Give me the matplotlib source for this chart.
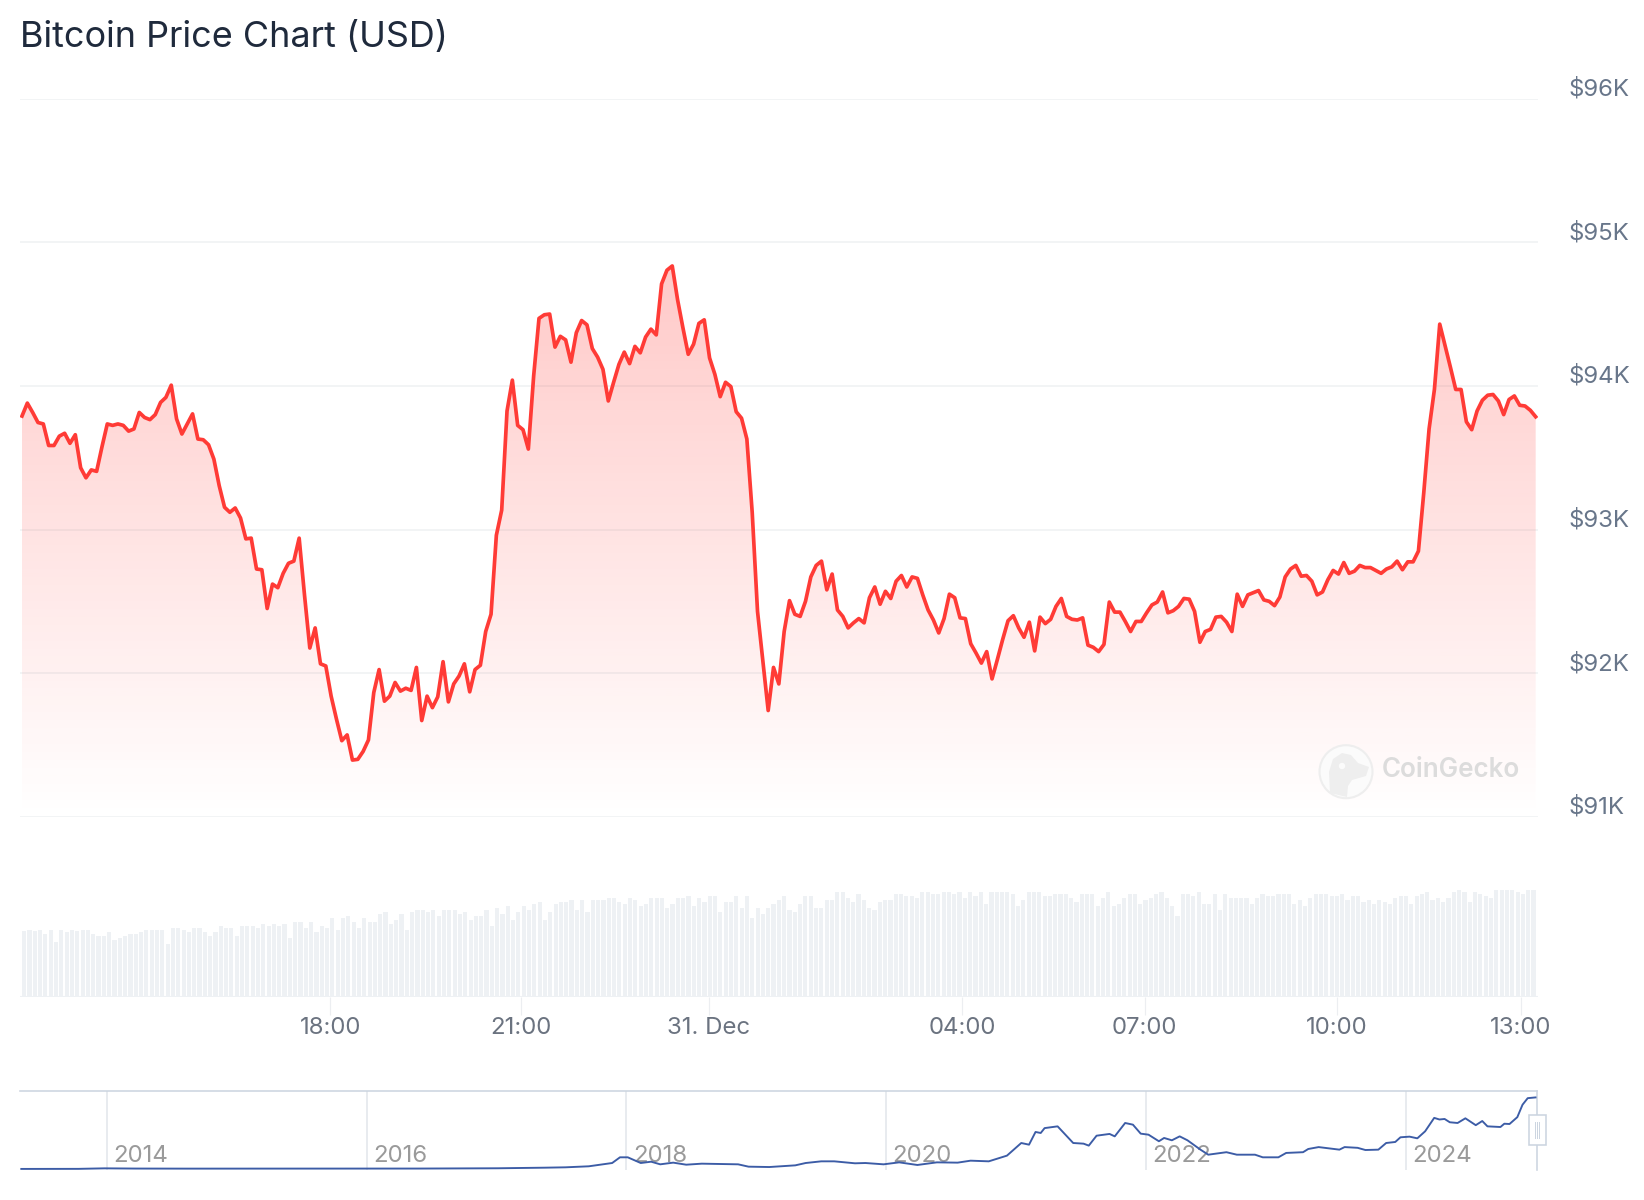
import numpy as np
import matplotlib
matplotlib.use("Agg")
import matplotlib.pyplot as plt
from matplotlib.patches import Circle, Polygon, Rectangle

plt.rcParams['font.family'] = ['Inter', 'DejaVu Sans']

# 24h price, USD from left to right
price = [
    93790, 93880, 93815, 93745, 93735, 93585, 93585, 93650, 93670, 93600,
    93660, 93430, 93360, 93415, 93405, 93575, 93735, 93725, 93735, 93725,
    93685, 93700, 93815, 93780, 93765, 93800, 93885, 93920, 94005, 93770,
    93665, 93735, 93805, 93630, 93625, 93590, 93490, 93305, 93155, 93120,
    93150, 93080, 92935, 92940, 92725, 92720, 92450, 92620, 92595, 92695,
    92765, 92780, 92940, 92545, 92175, 92315, 92065, 92050, 91840, 91680,
    91530, 91570, 91395, 91400, 91455, 91535, 91865, 92025, 91805, 91840,
    91935, 91875, 91895, 91880, 92040, 91670, 91840, 91760, 91835, 92080,
    91800, 91925, 91980, 92065, 91870, 92025, 92055, 92290, 92410, 92960,
    93135, 93825, 94040, 93725, 93695, 93560, 94070, 94470, 94495, 94500,
    94270, 94345, 94320, 94165, 94370, 94455, 94425, 94260, 94200, 94115,
    93895, 94025, 94150, 94235, 94155, 94275, 94230, 94340, 94395, 94355,
    94710, 94805, 94835, 94600, 94405, 94220, 94290, 94435, 94460, 94195,
    94080, 93925, 94025, 93995, 93820, 93775, 93630, 93120, 92430, 92085,
    91740, 92040, 91925, 92290, 92505, 92410, 92395, 92500, 92670, 92750,
    92780, 92580, 92690, 92440, 92395, 92315, 92350, 92380, 92350, 92525,
    92600, 92480, 92570, 92520, 92640, 92680, 92600, 92670, 92660, 92545,
    92440, 92370, 92280, 92380, 92550, 92525, 92385, 92380, 92205, 92140,
    92070, 92150, 91960, 92095, 92235, 92365, 92400, 92315, 92250, 92355,
    92155, 92390, 92345, 92375, 92465, 92520, 92395, 92375, 92370, 92385,
    92195, 92180, 92150, 92200, 92495, 92425, 92425, 92360, 92290, 92360,
    92360, 92420, 92475, 92495, 92565, 92420, 92435, 92465, 92520, 92515,
    92430, 92215, 92290, 92305, 92390, 92395, 92355, 92290, 92550, 92465,
    92545, 92560, 92575, 92510, 92500, 92470, 92530, 92670, 92725, 92750,
    92675, 92680, 92640, 92545, 92565, 92650, 92715, 92690, 92770, 92695,
    92710, 92750, 92735, 92735, 92715, 92695, 92725, 92740, 92780, 92720,
    92775, 92775, 92850, 93255, 93700, 93975, 94430, 94280, 94130, 93975,
    93975, 93750, 93695, 93825, 93900, 93935, 93940, 93895, 93800, 93905,
    93930, 93865, 93860, 93830, 93785,
]

# traded volume, relative units (the chart has no scale for it)
volume = [
    66, 67, 66, 67, 63, 67, 55, 67, 65, 67, 66, 67, 67, 63, 61, 61, 65, 57, 59, 61,
    63, 63, 65, 67, 67, 67, 67, 53, 69, 69, 67, 65, 69, 69, 65, 61, 65, 71, 69, 69,
    61, 71, 71, 71, 69, 73, 71, 73, 71, 73, 59, 75, 75, 69, 75, 65, 71, 69, 79, 67,
    79, 81, 75, 69, 79, 75, 75, 83, 85, 73, 77,
    83, 67, 85, 87, 87, 85, 87, 81, 87, 87, 87, 83, 85, 77, 81, 81, 87, 71, 89, 83,
    91, 77, 85, 91, 87, 93, 95, 77, 85, 93, 95, 95, 97, 87, 97, 85, 97, 97, 97, 99,
    99, 95, 93, 99, 97, 91, 93, 99, 99, 99, 89, 93, 99, 99, 101, 91, 99, 95, 101, 101,
    85, 95, 95, 101, 89, 101, 79, 89, 83, 89, 93, 97,
    101, 87, 85, 93, 101, 101, 89, 89, 97, 97, 105, 105, 99, 95, 103, 97, 89, 87, 95,
    97, 97, 103, 103, 101, 101, 99, 105, 105, 103, 103, 105, 105, 103, 105, 99, 105,
    101, 105, 93, 105, 105, 105, 105, 103, 91, 97, 105, 105, 105, 101, 101, 103, 103,
    103, 99, 95, 103, 103, 103, 91, 99, 105, 91, 93, 99, 103, 103, 93, 97, 99, 103,
    105, 99, 91, 81, 103, 103, 101, 105, 93, 93, 103, 87, 103, 99, 99, 99, 99, 93, 99,
    103, 101, 101, 103, 103, 103, 93, 97, 91, 99, 103, 103, 103, 101, 101, 103, 97,
    101, 101, 95, 97, 93, 97, 95, 93, 99, 101, 101, 93, 101, 103, 105, 97, 99, 95, 99,
    105, 107, 105, 95, 105, 103, 101, 99, 107, 107, 107, 107, 105, 103, 107, 107,
]

price_ticks = [91000, 92000, 93000, 94000, 95000, 96000]
price_labels = ['$91K', '$92K', '$93K', '$94K', '$95K', '$96K']

# hours relative to midnight of 31 Dec, as placed on the (ordinal) axis
time_ticks = [-5.99, -2.95, 0.05, 4.09, 7.0, 10.06, 13.0]
time_labels = ['18:00', '21:00', '31. Dec', '04:00', '07:00', '10:00', '13:00']
start_hour = -10.906
end_hour = 13.236

# all time history for the navigator, thousands of USD
nav_years = [
    2013.34, 2013.78, 2013.98, 2014.22, 2014.62, 2016.40, 2017.01, 2017.37, 2017.53,
    2017.71, 2017.89, 2017.95, 2018.01, 2018.11, 2018.19, 2018.26, 2018.36, 2018.46,
    2018.58, 2018.86, 2018.94, 2019.10, 2019.30, 2019.38, 2019.50, 2019.60, 2019.76,
    2019.84, 2019.98, 2020.10, 2020.24, 2020.39, 2020.55, 2020.65, 2020.79, 2020.93,
    2021.04, 2021.10, 2021.15, 2021.19, 2021.22, 2021.32, 2021.38, 2021.44, 2021.52,
    2021.56, 2021.62, 2021.72, 2021.76, 2021.84, 2021.90, 2021.96, 2022.02, 2022.10,
    2022.14, 2022.20, 2022.26, 2022.32, 2022.42, 2022.48, 2022.62, 2022.70, 2022.84,
    2022.90, 2023.02, 2023.08, 2023.21, 2023.25, 2023.33, 2023.49, 2023.53, 2023.63,
    2023.69, 2023.79, 2023.85, 2023.92, 2023.96, 2024.03, 2024.09, 2024.15, 2024.22,
    2024.26, 2024.30, 2024.34, 2024.40, 2024.46, 2024.54, 2024.59, 2024.63, 2024.73,
    2024.76, 2024.80, 2024.86, 2024.90, 2024.94, 2025.00,
]
nav_price = [
    0.1, 0.2, 0.9, 0.6, 0.5, 0.6, 1.0, 1.8, 2.3,
    3.7, 8.2, 16, 16, 8.2, 10, 6.4, 8.7, 5.9,
    7.3, 6.4, 3.2, 2.7, 5, 8.2, 10.5, 10.5, 7.8,
    8.2, 6.4, 9.1, 5.5, 9.1, 8.7, 11.4, 10.5, 18.3,
    35.6, 33.3, 50.7, 49.3, 56, 58.4, 47, 35.6, 34.7,
    32, 45.6, 48, 44.7, 63, 60.7, 48.4, 47, 38,
    42.5, 39.3, 44.7, 39.3, 26.5, 19.6, 23, 19.6, 19.6,
    16, 16, 22, 23, 27.4, 30, 26.5, 30, 29,
    26, 26.5, 35.6, 37, 43.4, 44.3, 42, 51.6, 70,
    67.8, 68.5, 64, 63, 69.4, 60, 65.7, 58.4, 57.5,
    62, 61.6, 71, 88, 97, 98,
]
nav_year_ticks = [2014, 2016, 2018, 2020, 2022, 2024]

W, H = 1644, 1200
fig = plt.figure(figsize=(W / 100, H / 100), dpi=100, facecolor='white')


def axes_px(left, top, right, bottom):
    return fig.add_axes([left / W, 1 - bottom / H, (right - left) / W, (bottom - top) / H])


PX = 0.72  # points per pixel at dpi 100
GRID = '#eff1f3'
TEXT = '#68768a'
hour_lim = (-10.938, 13.273)

# price chart
ax = axes_px(20, 98.6, 1538, 816.8)
hours = np.linspace(start_hour, end_hour, len(price))
ax.set_axisbelow(True)
ax.set_yticks(price_ticks)
ax.set_xticks([])
ax.tick_params(left=False, labelleft=False)
ax.grid(axis='y', color=GRID, lw=1.5 * PX)
for s in ax.spines.values():
    s.set_visible(False)

shade = ax.fill_between(hours, price, price_ticks[0], color='none')
grad = np.zeros((256, 1, 4))
grad[..., 0] = 1.0
grad[..., 1] = 0.22
grad[..., 2] = 0.20
grad[..., 3] = np.linspace(0.27, 0, 256)[:, None]
im = ax.imshow(grad, extent=[hours[0], hours[-1], price_ticks[0], max(price)],
               aspect='auto', origin='upper', zorder=2)
im.set_clip_path(shade.get_paths()[0], transform=ax.transData)
ax.plot(hours, price, color='#ff3b36', lw=3.7 * PX, solid_joinstyle='round', zorder=3)
ax.set_xlim(*hour_lim)
ax.set_ylim(91000, 96000)

for v, lab in zip(price_ticks, price_labels):
    ax.annotate(lab, xy=(1, v), xycoords=('axes fraction', 'data'),
                xytext=(30 * PX, 3 * PX), textcoords='offset points',
                fontsize=24 * PX, color=TEXT, va='baseline', annotation_clip=False)

# volume bars
ax_vol = axes_px(20, 880, 1538, 997.3)
bar_x = np.linspace(start_hour + 0.034, end_hour - 0.034, len(volume))
ax_vol.bar(bar_x, volume, width=0.066, color='#eef1f4', linewidth=0)
ax_vol.axhline(0, color='#eef1f4', lw=1.5)
ax_vol.set_xlim(*hour_lim)
ax_vol.set_ylim(0, 117.3)
ax_vol.set_yticks([])
ax_vol.set_xticks(time_ticks)
ax_vol.set_xticklabels(time_labels, fontsize=24 * PX, color='#6b7380')
ax_vol.tick_params(axis='x', length=18 * PX, width=1.2 * PX, color='#eceef1', pad=1.5 * PX)
for s in ax_vol.spines.values():
    s.set_visible(False)

# navigator
ax_nav = axes_px(20, 1091, 1536.8, 1170)
ax_nav.plot(nav_years, nav_price, color='#3c5ca6', lw=1.9 * PX, solid_joinstyle='round', zorder=3)
ax_nav.set_xlim(2013.33, 2025.01)
ax_nav.set_ylim(-1.37, 106.8)
ax_nav.set_yticks([])
ax_nav.set_xticks([])
for y in nav_year_ticks:
    ax_nav.axvline(y, color='#e1e5ea', lw=1.5 * PX, zorder=1)
    ax_nav.annotate(str(y), xy=(y, 0), xycoords=('data', 'axes fraction'),
                    xytext=(6.5 * PX, 8.3 * PX), textcoords='offset points',
                    fontsize=24 * PX, color='#9a9a9a', va='baseline', zorder=2)
for name, s in ax_nav.spines.items():
    s.set_visible(name in ('top', 'right'))
    s.set_color('#ccd5e0')
    s.set_linewidth(1.6 * PX)

# title, watermark and navigator handle, drawn in pixel space
over = fig.add_axes([0, 0, 1, 1], facecolor='none')
over.set_xlim(0, W)
over.set_ylim(H, 0)
over.axis('off')
over.text(20, 38, 'Bitcoin Price Chart (USD)', fontsize=36 * PX, color='#1f2a3c', va='center')

over.add_patch(Circle((1346, 771.7), 26.5, facecolor='#fbfbfb', edgecolor='#eeeeee', lw=1.5))
over.add_patch(Polygon([(1330, 793), (1329, 772), (1333, 759), (1342, 753), (1351, 755),
                        (1358, 763), (1369, 767), (1366, 776), (1352, 780), (1348, 786),
                        (1347, 797)], closed=True, facecolor='#eeeeee', edgecolor='none'))
over.add_patch(Circle((1342, 766), 3.2, facecolor='#fbfbfb', edgecolor='none'))
over.text(1382, 770, 'CoinGecko', fontsize=26 * PX, fontweight='semibold', color='#dcdcdc', va='center')

over.add_patch(Rectangle((1528.5, 1115), 17, 30, facecolor='white', edgecolor='#ccd5e0', lw=1.6 * PX))
for dx in (1535, 1537, 1539):
    over.plot([dx, dx], [1122, 1138], color='#ccd5e0', lw=1 * PX)

fig.savefig('out.png', dpi=100)
